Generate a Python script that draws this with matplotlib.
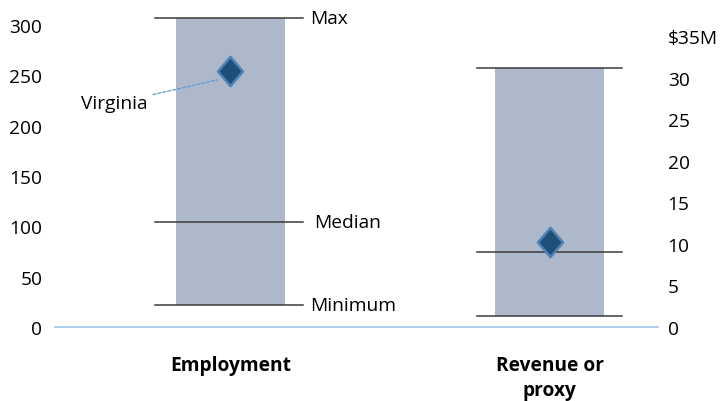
import matplotlib.pyplot as plt
from matplotlib.path import Path

plt.rcParams['font.family'] = ['Open Sans', 'DejaVu Sans']

# Range summaries for the two measures
categories = ["Employment", "Revenue or\nproxy"]
emp_min, emp_median, emp_max = 22, 104, 307
emp_virginia = 254.5
rev_min, rev_median, rev_max = 1.3, 9.0, 31.2
rev_virginia = 10.3

left_ticks = [0, 50, 100, 150, 200, 250, 300]
right_ticks = [0, 5, 10, 15, 20, 25, 30, 35]
right_labels = ["0", "5", "10", "15", "20", "25", "30", "$35M"]

bar_color = "#ADB9CA"
line_color = "#3A3A3A"
marker_face = "#1F4E79"
marker_edge = "#4F81B5"
axis_color = "#9DC3E6"
fs = 13.8

# slightly tall diamond marker
diamond = Path([(0, 1), (0.86, 0), (0, -1), (-0.86, 0), (0, 1)],
               [Path.MOVETO, Path.LINETO, Path.LINETO, Path.LINETO, Path.CLOSEPOLY])

fig = plt.figure(figsize=(7.22, 4.02), dpi=100)
W, H = 722, 402
x0, x1, ybase, ytop = 55, 658, 328, 10
ax = fig.add_axes([x0 / W, 1 - ybase / H, (x1 - x0) / W, (ybase - ytop) / H])
ax2 = ax.twinx()

ax.set_xlim(-0.55, 1.34)
ax.set_ylim(0, (ybase - ytop) / 1.007)
ax2.set_ylim(0, (ybase - ytop) / 8.3)

bw = 0.342
hw = 0.226

# Employment (left scale)
ax.bar([0], [emp_max - emp_min], bottom=[emp_min], width=bw, color=bar_color, zorder=2)
for v in (emp_min, emp_median, emp_max):
    ax.plot([-hw - 0.01, hw], [v, v], color=line_color, lw=1.1, zorder=3, clip_on=False)
ax.plot([0], [emp_virginia], marker=diamond, ms=21, mfc=marker_face, mec=marker_edge,
        mew=1.8, zorder=5, linestyle="none")

# Revenue (right scale)
ax2.bar([1], [rev_max - rev_min], bottom=[rev_min], width=bw, color=bar_color, zorder=2)
for v in (rev_min, rev_median, rev_max):
    ax2.plot([1 - hw, 1 + hw], [v, v], color=line_color, lw=1.1, zorder=3, clip_on=False)
ax2.plot([1], [rev_virginia], marker=diamond, ms=21, mfc=marker_face, mec=marker_edge,
         mew=1.8, zorder=5, linestyle="none")

# Baseline
ax.axhline(0, color=axis_color, lw=1.2, zorder=1, clip_on=False)

# Annotations for the employment range
ax.text(hw + 0.025, emp_max, "Max", fontsize=fs, va="center", ha="left")
ax.text(hw + 0.035, emp_median, "Median", fontsize=fs, va="center", ha="left")
ax.text(hw + 0.025, emp_min, "Minimum", fontsize=fs, va="center", ha="left")
ax.annotate("Virginia", xy=(-0.04, emp_virginia - 9), xytext=(-0.26, 222),
            fontsize=fs, va="center", ha="right",
            arrowprops=dict(arrowstyle="-", color="#5B9BD5", lw=0.9,
                            linestyle=(0, (2.5, 1.5)), shrinkA=2, shrinkB=0))

# Axes styling
for a in (ax, ax2):
    for s in a.spines.values():
        s.set_visible(False)
    a.tick_params(length=0)
ax.set_yticks(left_ticks)
ax.set_yticklabels([str(t) for t in left_ticks], fontsize=fs)
ax.tick_params(axis="y", pad=9)
ax2.set_yticks(right_ticks)
ax2.set_yticklabels(right_labels, fontsize=fs)
ax2.tick_params(axis="y", pad=7)
ax.set_xticks([0, 1])
ax.set_xticklabels(categories, fontsize=fs, fontweight="bold", linespacing=1.35)
ax.tick_params(axis="x", pad=20)

fig.savefig("out.png", dpi=100)
